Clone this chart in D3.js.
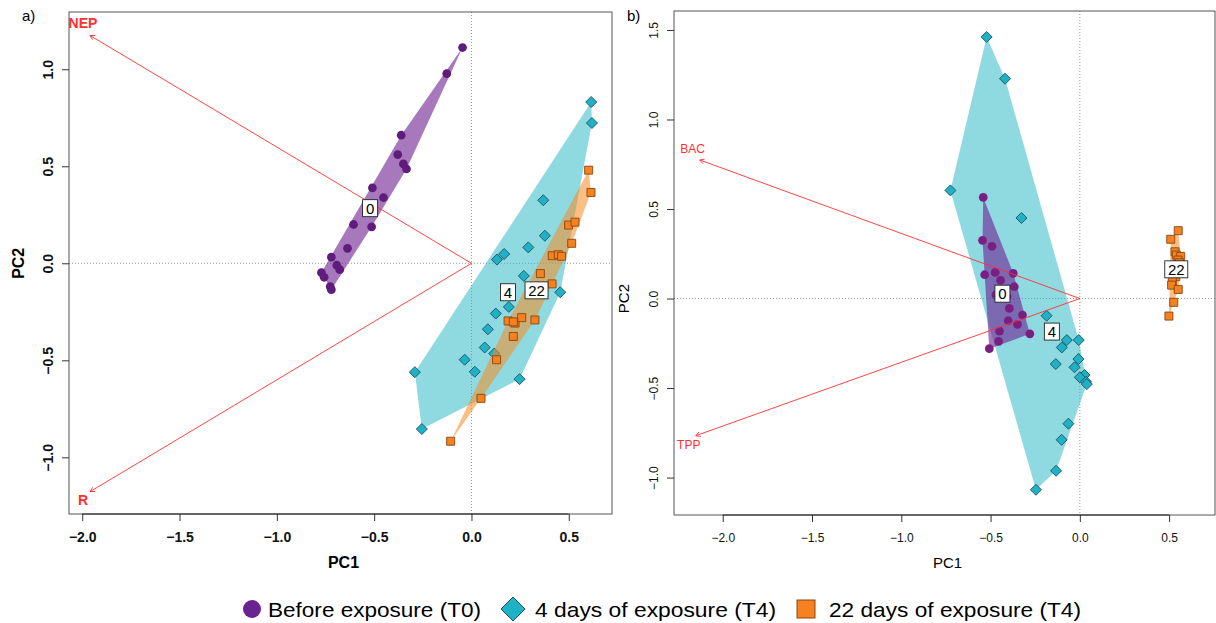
<!DOCTYPE html>
<html>
<head>
<meta charset="utf-8">
<script src="https://cdn.jsdelivr.net/npm/d3@7"></script>
<style>
  body { margin: 0; background: #fff; }
  svg { display: block; font-family: "Liberation Sans", Arial, Helvetica, sans-serif; }
</style>
</head>
<body>
<script>
// panel a: PCA scores (PC1, PC2) per sampling day
var a_t0 = [[-0.046,1.112],[-0.127,0.977],[-0.361,0.660],[-0.379,0.560],[-0.350,0.512],[-0.334,0.486],
  [-0.509,0.389],[-0.452,0.339],[-0.606,0.200],[-0.513,0.188],[-0.637,0.077],[-0.720,0.032],
  [-0.692,-0.010],[-0.677,-0.033],[-0.771,-0.048],[-0.757,-0.072],[-0.726,-0.120],[-0.720,-0.136]]
var a_t4 = [[0.615,0.831],[0.619,0.723],[0.369,0.325],[0.377,0.142],[0.292,0.082],[0.168,0.048],
  [0.131,0.019],[0.269,-0.065],[0.456,-0.149],[0.192,-0.225],[0.125,-0.259],[0.084,-0.340],
  [0.068,-0.434],[0.117,-0.465],[-0.035,-0.497],[0.017,-0.559],[0.247,-0.597],[-0.291,-0.561],[-0.255,-0.854]]
var a_t22 = [[-0.107,-0.917],[0.049,-0.696],[0.129,-0.497],[0.215,-0.377],[0.188,-0.297],[0.224,-0.308],
  [0.215,-0.302],[0.258,-0.280],[0.326,-0.292],[0.414,-0.106],[0.354,-0.053],[0.415,0.039],
  [0.446,0.044],[0.463,0.036],[0.602,0.480],[0.614,0.365],[0.499,0.197],[0.532,0.212],[0.515,0.103]]
var a_arrows = [{name: 'NEP', x: -1.960, y: 1.174}, {name: 'R', x: -1.960, y: -1.177}]

// panel b
var b_t0 = [[-0.541,0.565],[-0.545,0.325],[-0.492,0.292],[-0.533,0.133],[-0.474,0.146],[-0.373,0.141],
  [-0.444,0.102],[-0.367,0.066],[-0.408,0.010],[-0.470,0.020],[-0.395,-0.055],[-0.321,-0.092],
  [-0.401,-0.124],[-0.349,-0.144],[-0.450,-0.182],[-0.280,-0.197],[-0.455,-0.239],[-0.507,-0.280]]
var b_t4 = [[-0.522,1.461],[-0.419,1.228],[-0.725,0.604],[-0.327,0.450],[-0.186,-0.096],[-0.073,-0.232],
  [-0.006,-0.232],[-0.101,-0.273],[-0.008,-0.338],[-0.135,-0.366],[-0.030,-0.384],[0.026,-0.427],
  [0.000,-0.440],[0.035,-0.465],[0.039,-0.478],[-0.064,-0.699],[-0.102,-0.789],[-0.133,-0.962],[-0.246,-1.068]]
var b_t22 = [[0.551,0.379],[0.509,0.331],[0.533,0.261],[0.540,0.243],[0.565,0.235],[0.550,0.215],
  [0.558,0.200],[0.542,0.185],[0.565,0.175],[0.548,0.170],[0.560,0.160],[0.537,0.122],
  [0.518,0.098],[0.514,0.075],[0.540,0.180],[0.551,0.051],[0.526,-0.021],[0.499,-0.098],[0.555,0.140]]
var b_arrows = [{name: 'BAC', x: -2.129, y: 0.774}, {name: 'TPP', x: -2.151, y: -0.766}]

var xTicks = [-2, -1.5, -1, -0.5, 0, 0.5]
var a_yTicks = [-1, -0.5, 0, 0.5, 1]
var b_yTicks = [-1, -0.5, 0, 0.5, 1, 1.5]

var groupNames = ['Before exposure (T0)', '4 days of exposure (T4)', '22 days of exposure (T4)']
var groupTags = ['0', '4', '22']

var col = {
  t0: '#631f80', t0Hull: 'rgba(110,30,145,0.6)',
  t4: '#1fb1c6', t4Hull: 'rgba(31,180,196,0.5)',
  t22: '#f5821f', t22Hull: 'rgba(247,138,32,0.55)',
  arrow: '#ff3030'
}

var svg = d3.select('body').append('svg').attr('width', 1216).attr('height', 623)
var fmt = d3.format('.1f')

var panels = [
  {tag: 'a)', left: 69, right: 612, top: 12, bottom: 514, xd: [-2.068, 0.722], yd: [-1.292, 1.295],
    bold: true, tick: 14, title: 16, arrowFont: 14, yTicks: a_yTicks, t0: '#5f1c7c',
    groups: [a_t4, a_t22, a_t0], arrows: a_arrows},
  {tag: 'b)', left: 674, right: 1215, top: 11, bottom: 515, xd: [-2.273, 0.757], yd: [-1.209, 1.606],
    bold: false, tick: 12, title: 15, arrowFont: 12, yTicks: b_yTicks, t0: '#7a1f82',
    groups: [b_t4, b_t22, b_t0], arrows: b_arrows}
]

// order of drawing: T4, T22, T0 (so T0 hull sits above T4 in panel b)
var kinds = ['t4', 't22', 't0']
var tagIdx = {t0: 0, t4: 1, t22: 2}

panels.forEach(function(p){
  var x = d3.scaleLinear().domain(p.xd).range([p.left, p.right])
  var y = d3.scaleLinear().domain(p.yd).range([p.bottom, p.top])
  var g = svg.append('g')
  var weight = p.bold ? 'bold' : 'normal'

  // zero lines
  g.append('line').attr('x1', x(0)).attr('x2', x(0)).attr('y1', p.top).attr('y2', p.bottom)
    .attr('stroke', '#999').attr('stroke-dasharray', '1,2')
  g.append('line').attr('x1', p.left).attr('x2', p.right).attr('y1', y(0)).attr('y2', y(0))
    .attr('stroke', '#999').attr('stroke-dasharray', '1,2')

  // hulls then points, group by group
  p.groups.forEach(function(pts, i){
    var k = kinds[i]
    var hull = d3.polygonHull(pts.map(function(d){ return [x(d[0]), y(d[1])] }))
    g.append('path').attr('d', 'M' + hull.join('L') + 'Z').attr('fill', col[k + 'Hull'])

    var ps = g.append('g').selectAll('path').data(pts).join('path')
      .attr('transform', function(d){ return 'translate(' + x(d[0]) + ',' + y(d[1]) + ')' })
    if (k == 't0') ps.attr('d', d3.symbol(d3.symbolCircle, 60)).attr('fill', p.t0)
    if (k == 't4') ps.attr('d', 'M0,-5.5L5.5,0L0,5.5L-5.5,0Z').attr('fill', col.t4)
      .attr('stroke', '#1d4f5c').attr('stroke-width', 0.9)
    if (k == 't22') ps.attr('d', 'M-4,-4H4V4H-4Z').attr('fill', col.t22)
      .attr('stroke', '#8a4512').attr('stroke-width', 0.9)
  })

  // environmental arrows
  p.arrows.forEach(function(a){
    var x0 = x(0), y0 = y(0), x1 = x(a.x), y1 = y(a.y)
    var ang = Math.atan2(y1 - y0, x1 - x0), L = 5
    g.append('line').attr('x1', x0).attr('y1', y0).attr('x2', x1).attr('y2', y1)
      .attr('stroke', col.arrow).attr('stroke-width', 0.9)
    g.append('path')
      .attr('d', 'M' + (x1 - L * Math.cos(ang - 0.5)) + ',' + (y1 - L * Math.sin(ang - 0.5)) +
        'L' + x1 + ',' + y1 + 'L' + (x1 - L * Math.cos(ang + 0.5)) + ',' + (y1 - L * Math.sin(ang + 0.5)))
      .attr('fill', 'none').attr('stroke', col.arrow).attr('stroke-width', 0.9)
    g.append('text').attr('x', x1 - 7).attr('y', y1 + (a.y > 0 ? -7 : 13))
      .attr('text-anchor', 'middle').attr('fill', col.arrow)
      .attr('font-size', p.arrowFont).attr('font-weight', weight).text(a.name)
  })

  // group labels at centroids
  p.groups.forEach(function(pts, i){
    var cx = x(d3.mean(pts, function(d){ return d[0] }))
    var cy = y(d3.mean(pts, function(d){ return d[1] }))
    var txt = groupTags[tagIdx[kinds[i]]]
    var w = txt.length * 8 + 7
    g.append('rect').attr('x', cx - w / 2).attr('y', cy - 8.5).attr('width', w).attr('height', 17)
      .attr('fill', '#fff').attr('stroke', '#222').attr('stroke-width', 0.9)
    g.append('text').attr('x', cx).attr('y', cy + 5.5).attr('text-anchor', 'middle')
      .attr('font-size', 15).text(txt)
  })

  // frame
  g.append('rect').attr('x', p.left).attr('y', p.top)
    .attr('width', p.right - p.left).attr('height', p.bottom - p.top)
    .attr('fill', 'none').attr('stroke', '#555')

  // axes
  var xa = g.append('g').attr('transform', 'translate(0,' + p.bottom + ')')
    .call(d3.axisBottom(x).tickValues(xTicks).tickFormat(fmt).tickSize(7).tickPadding(11))
  var ya = g.append('g').attr('transform', 'translate(' + p.left + ',0)')
    .call(d3.axisLeft(y).tickValues(p.yTicks).tickFormat(fmt).tickSize(7))
  ;[xa, ya].forEach(function(ax){
    ax.select('.domain').remove()
    ax.selectAll('line').attr('stroke', '#333')
    ax.selectAll('text').attr('font-size', p.tick).attr('font-weight', weight)
      .attr('font-family', '"Liberation Sans", Arial, sans-serif').attr('fill', '#111')
  })
  ya.selectAll('.tick text')
    .attr('x', null).attr('dy', null).attr('text-anchor', 'middle')
    .attr('transform', 'translate(' + (-16) + ',0) rotate(-90)')
  g.append('line').attr('x1', x(-2)).attr('x2', x(0.5)).attr('y1', p.bottom).attr('y2', p.bottom)
    .attr('stroke', '#222')

  // titles
  g.append('text').attr('x', (p.left + p.right) / 2 + 3).attr('y', 568).attr('text-anchor', 'middle')
    .attr('font-size', p.title).attr('font-weight', weight).text('PC1')
  g.append('text').attr('transform', 'translate(' + (p.left - 45) + ',' + y(0) + ') rotate(-90)')
    .attr('text-anchor', 'middle').attr('font-size', p.title).attr('font-weight', weight).text('PC2')
  g.append('text').attr('x', p.left - 47).attr('y', 21).attr('font-size', 15).text(p.tag)
})

// legend
var leg = svg.append('g')
leg.append('circle').attr('cx', 252).attr('cy', 609).attr('r', 9).attr('fill', '#6a2290')
leg.append('path').attr('d', 'M513,597L525,609L513,621L501,609Z').attr('fill', col.t4)
  .attr('stroke', '#1d4f5c')
leg.append('rect').attr('x', 797).attr('y', 600).attr('width', 18).attr('height', 18)
  .attr('fill', col.t22).attr('stroke', '#8a4512')
var legX = [268, 535, 829], legW = [213, 241, 252]
groupNames.forEach(function(n, i){
  leg.append('text').attr('x', legX[i]).attr('y', 617).attr('font-size', 21)
    .attr('textLength', legW[i]).attr('lengthAdjust', 'spacingAndGlyphs').text(n)
})
</script>
</body>
</html>
